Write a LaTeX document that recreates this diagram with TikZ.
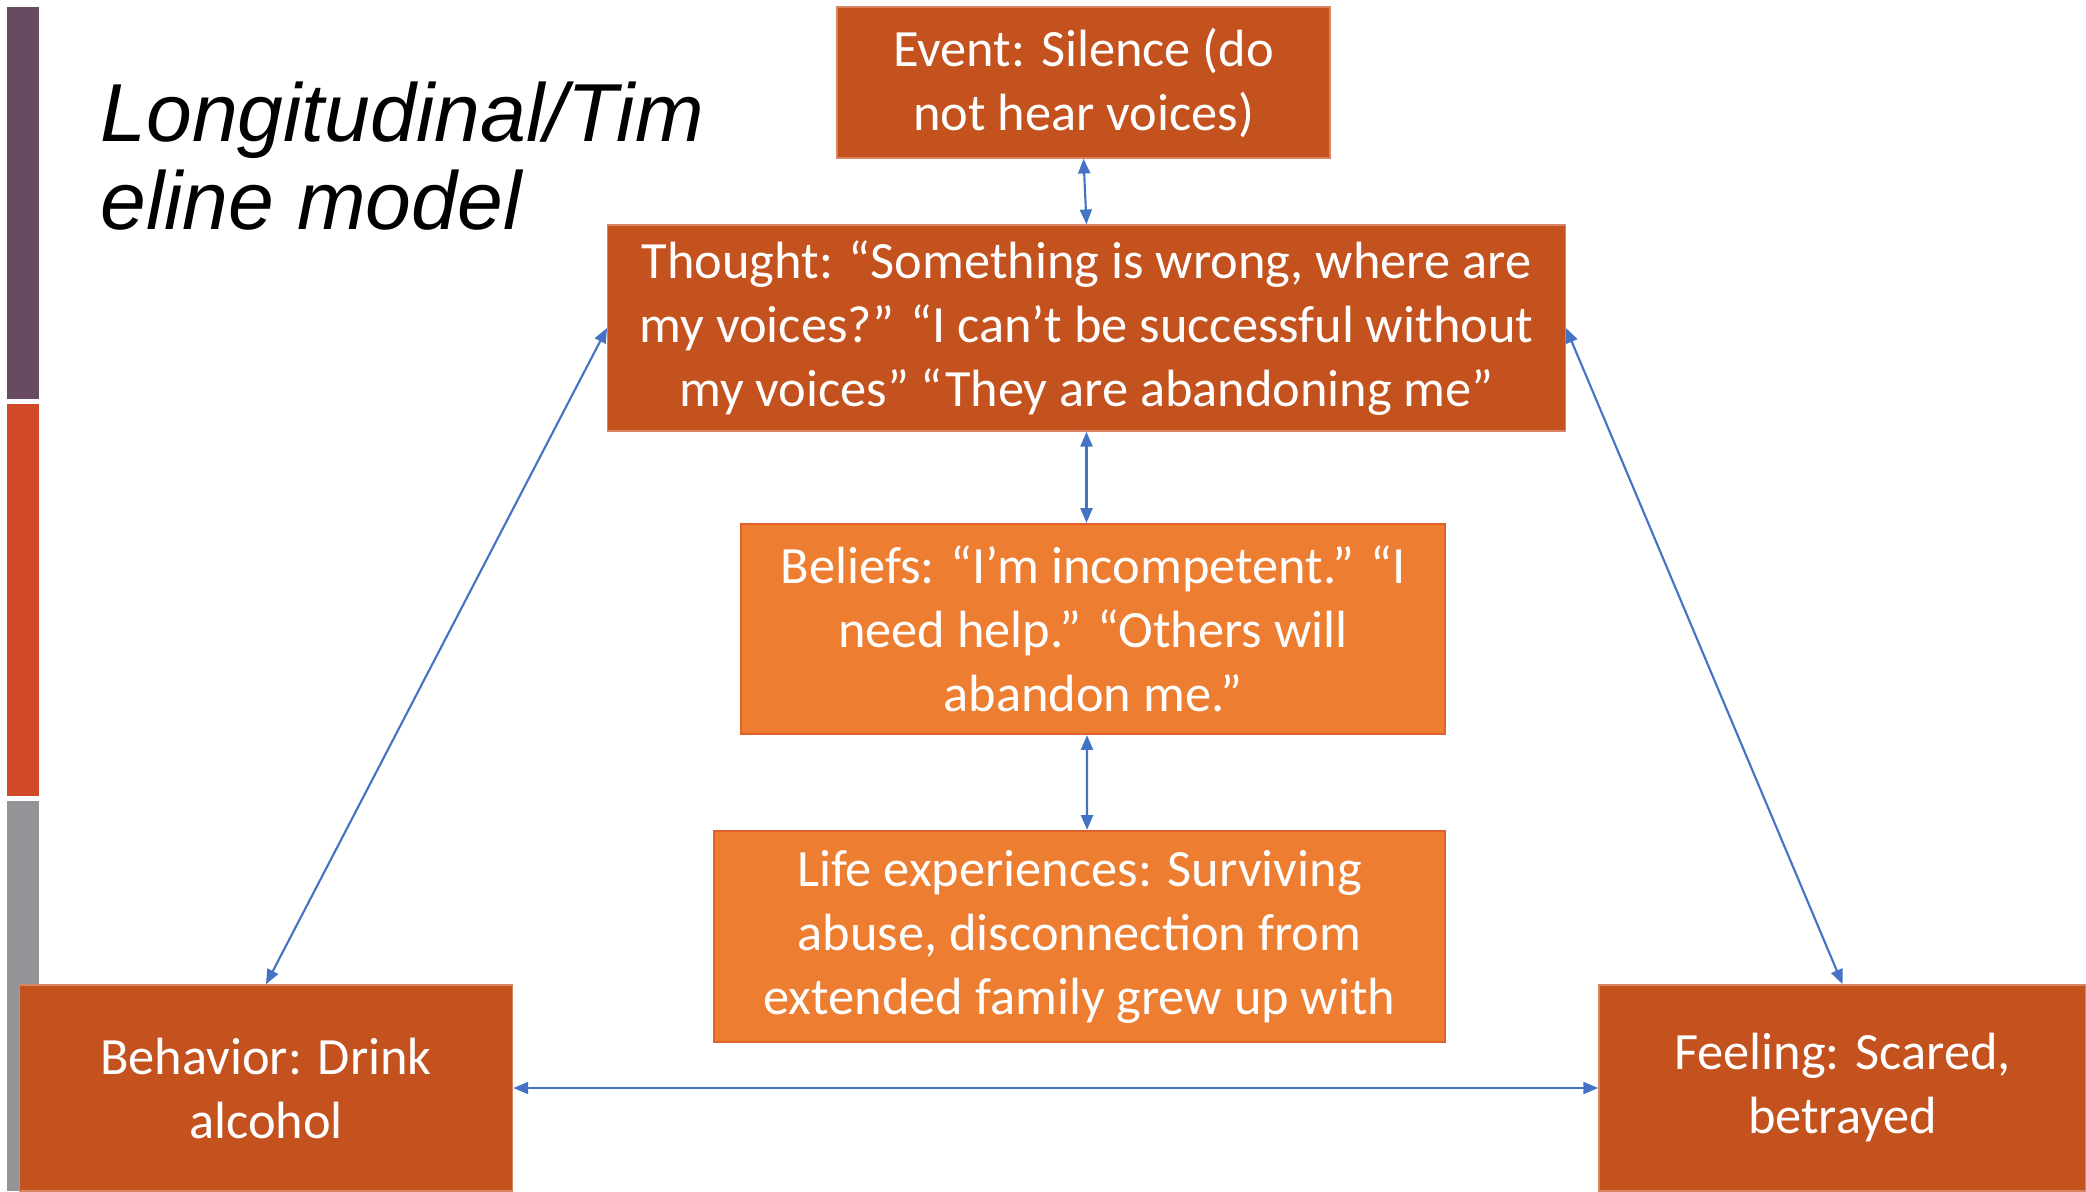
\documentclass[tikz,border=0pt]{standalone}
\usepackage{fontspec}
\setmainfont{Carlito}
\newfontfamily\titlefont{Liberation Sans}
\usetikzlibrary{arrows.meta}

\definecolor{darkorange}{HTML}{C4521F}
\definecolor{lightorange}{HTML}{ED7D31}
\definecolor{edgeorange}{HTML}{E0622A}
\definecolor{linkblue}{HTML}{4472C4}
\definecolor{barpurple}{HTML}{684A62}
\definecolor{barred}{HTML}{D04A27}
\definecolor{bargray}{HTML}{939598}

\begin{document}
\begin{tikzpicture}[x=0.01cm,y=-0.01cm,
  boxtext/.style={font=\fontsize{14.9}{18.2}\selectfont, text=white, align=center, inner sep=0pt,
    execute at begin node={\rule{0pt}{14pt}}},
  darkbox/.style={boxtext, rectangle, fill=darkorange, draw=darkorange!70!white, line width=0.4pt},
  lightbox/.style={boxtext, rectangle, fill=lightorange, draw=edgeorange, line width=0.6pt},
  link/.style={linkblue, line width=0.6pt, {Triangle[length=4.2pt,width=3.4pt]}-{Triangle[length=4.2pt,width=3.4pt]}},
  titletext/.style={font=\titlefont\itshape\fontsize{23.4}{24.75}\selectfont, anchor=base west, inner sep=0pt}
]
% page frame
\useasboundingbox[fill=white] (0,0) rectangle (2086,1191);

% coloured side bar
\fill[barpurple] (7,7) rectangle (39,399);
\fill[barred] (7,404) rectangle (39,796);
\fill[bargray] (7,801) rectangle (39,1191);

% heading
\node[titletext] (t1) at (100,142) {Longitudinal/Tim};
\node[titletext] (t2) at (100,229) {eline model};

% boxes
\node[darkbox, minimum width=4.93cm, minimum height=1.51cm] (ev) at (1083.5,82.5)
  {Event: Silence (do\\not hear voices)};
\node[darkbox, minimum width=9.57cm, minimum height=2.06cm] (th) at (1086.5,328)
  {Thought: “Something is wrong, where are\\my voices?” “I can’t be successful without\\my voices” “They are abandoning me”};
\node[lightbox, minimum width=7.04cm, minimum height=2.10cm] (bel) at (1093,629)
  {Beliefs: “I’m incompetent.” “I\\need help.” “Others will\\abandon me.”};
\node[lightbox, minimum width=7.31cm, minimum height=2.11cm] (life) at (1079.5,936.5)
  {Life experiences: Surviving\\abuse, disconnection from\\extended family grew up with};
\node[darkbox, minimum width=4.93cm, minimum height=2.06cm] (beh) at (266,1088)
  {Behavior: Drink\\alcohol};
\node[darkbox, minimum width=4.87cm, minimum height=2.06cm] (fe) at (1842.5,1088)
  {Feeling: Scared,\\betrayed};

% connectors
\draw[link] (ev.south) -- (th.north);
\draw[link] (th.south) -- (th.south |- bel.north);
\draw[link] ([xshift=-0.06cm]bel.south) -- ([xshift=0.075cm]life.north);
\draw[link] (th.west) -- (beh.north);
\draw[link] (th.east) -- (fe.north);
\draw[link] (beh.east) -- (fe.west);
\end{tikzpicture}
\end{document}
